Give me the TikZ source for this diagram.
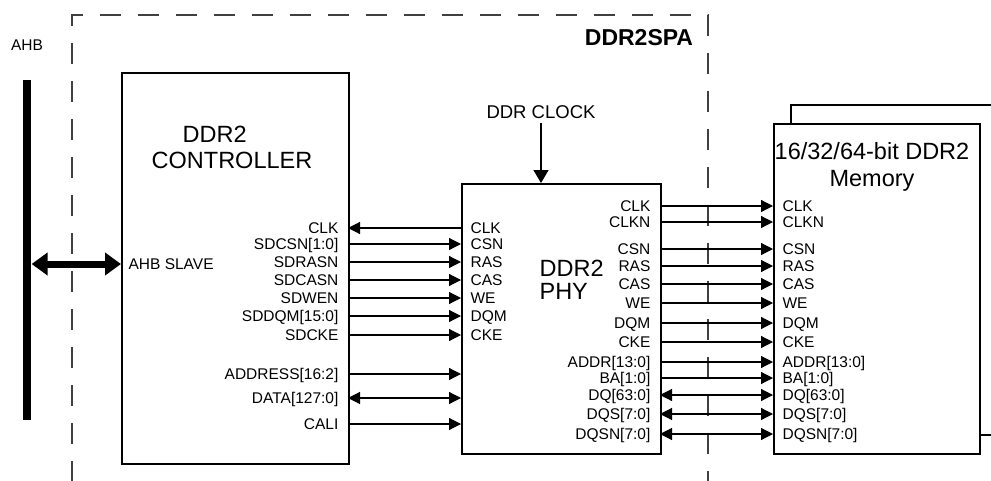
\documentclass[tikz,border=0pt]{standalone}
\usepackage{fontspec}
\setmainfont{Liberation Sans}
\usetikzlibrary{arrows.meta, positioning}

\begin{document}
\begin{tikzpicture}[x=1pt, y=-1pt, line width=1.2pt, >={Triangle[length=12pt, width=12pt]},
  box/.style={draw, line width=2.2pt, fill=white, rectangle, anchor=north west, inner sep=0pt},
  pinl/.style={anchor=west, inner xsep=9pt, inner ysep=0pt, text height=11pt, text depth=0pt, font=\fontsize{15.5}{17}\selectfont},
  pinr/.style={pinl, anchor=east},
  title/.style={inner sep=0pt, font=\fontsize{23.5}{26}\selectfont},
  frame/.style={draw=black!75, line width=1.3pt, dash pattern=on 21pt off 17pt, dash phase=19.5pt},
  bus/.style={line width=7pt, {Triangle[length=16pt, width=22pt]}-{Triangle[length=16pt, width=22pt]}}]

  \clip (0,0) rectangle (991,480);

  % Rahmen DDR2SPA
  \draw [frame] (72,500) |- (708,15) -- (708,500);
  \node [font=\fontsize{23}{25}\bfseries] (spa) at (639,38) {DDR2SPA};

  % AHB-Bus
  \node [fill, minimum width=8pt, minimum height=340pt, inner sep=0pt] (ahb) at (27,250) {};
  \node [pinl, anchor=center, inner xsep=0pt] (ahb-lbl) at (27,45) {AHB};

  % Bloecke
  \node [box, minimum width=227pt, minimum height=391pt] (ctrl) at (121,72) {};
  \node [box, minimum width=199pt, minimum height=270pt] (phy) at (461,183) {};
  \node [box, minimum width=230pt, minimum height=330pt] (memback) at (790,104) {};
  \node [box, minimum width=206pt, minimum height=330pt] (mem) at (773,123) {};

  \node [title, align=left] (ctrl-title) at (232,147) {\hspace*{31pt}DDR2\\CONTROLLER};
  \node [title, align=left, anchor=west, font=\fontsize{23.5}{23}\selectfont] (phy-title) at (539,280) {DDR2\\PHY};
  \node [title, align=center, font=\fontsize{23.5}{27}\selectfont] (mem-title) at (872,167) {16/32/64-bit DDR2\\Memory};

  % Takt
  \node [inner ysep=4pt, text height=13pt, text depth=0pt, font=\fontsize{18.5}{20}\selectfont] (ddrclk) at (541,112) {DDR CLOCK};
  \draw [-{Triangle[length=13pt, width=15pt]}] (ddrclk.south) -- (phy.north -| ddrclk.south);

  % AHB Slave
  \node [pinl, inner xsep=7pt] (slave) at (121,264) {AHB SLAVE};
  \draw [bus] (ahb.east |- slave) -- (slave.west);

  % Controller-Pins
  \node [pinr] (ctl-clk) at (348,228) {CLK};
  \node [pinr] (ctl-csn) at (348,244) {SDCSN[1:0]};
  \node [pinr] (ctl-ras) at (348,262) {SDRASN};
  \node [pinr] (ctl-cas) at (348,280) {SDCASN};
  \node [pinr] (ctl-we) at (348,298) {SDWEN};
  \node [pinr] (ctl-dqm) at (348,316) {SDDQM[15:0]};
  \node [pinr] (ctl-cke) at (348,335) {SDCKE};
  \node [pinr] (ctl-addr) at (348,374) {ADDRESS[16:2]};
  \node [pinr] (ctl-data) at (348,398) {DATA[127:0]};
  \node [pinr] (ctl-cali) at (348,424) {CALI};

  % PHY-Pins links
  \node [pinl] (phyl-clk) at (461,228) {CLK};
  \node [pinl] (phyl-csn) at (461,244) {CSN};
  \node [pinl] (phyl-ras) at (461,262) {RAS};
  \node [pinl] (phyl-cas) at (461,280) {CAS};
  \node [pinl] (phyl-we) at (461,298) {WE};
  \node [pinl] (phyl-dqm) at (461,316) {DQM};
  \node [pinl] (phyl-cke) at (461,335) {CKE};
  \coordinate (phyl-addr) at (phy.west |- ctl-addr);
  \coordinate (phyl-data) at (phy.west |- ctl-data);
  \coordinate (phyl-cali) at (phy.west |- ctl-cali);

  % PHY-Pins rechts
  \node [pinr] (phyr-clk) at (660,206) {CLK};
  \node [pinr] (phyr-clkn) at (660,222) {CLKN};
  \node [pinr] (phyr-csn) at (660,249) {CSN};
  \node [pinr] (phyr-ras) at (660,266) {RAS};
  \node [pinr] (phyr-cas) at (660,284) {CAS};
  \node [pinr] (phyr-we) at (660,303) {WE};
  \node [pinr] (phyr-dqm) at (660,323) {DQM};
  \node [pinr] (phyr-cke) at (660,342) {CKE};
  \node [pinr] (phyr-addr) at (660,362) {ADDR[13:0]};
  \node [pinr] (phyr-ba) at (660,378) {BA[1:0]};
  \node [pinr] (phyr-dq) at (660,395) {DQ[63:0]};
  \node [pinr] (phyr-dqs) at (660,414) {DQS[7:0]};
  \node [pinr] (phyr-dqsn) at (660,434) {DQSN[7:0]};

  % Speicher-Pins
  \node [pinl] (mem-clk) at (773,206) {CLK};
  \node [pinl] (mem-clkn) at (773,222) {CLKN};
  \node [pinl] (mem-csn) at (773,249) {CSN};
  \node [pinl] (mem-ras) at (773,266) {RAS};
  \node [pinl] (mem-cas) at (773,284) {CAS};
  \node [pinl] (mem-we) at (773,303) {WE};
  \node [pinl] (mem-dqm) at (773,323) {DQM};
  \node [pinl] (mem-cke) at (773,342) {CKE};
  \node [pinl] (mem-addr) at (773,362) {ADDR[13:0]};
  \node [pinl] (mem-ba) at (773,378) {BA[1:0]};
  \node [pinl] (mem-dq) at (773,395) {DQ[63:0]};
  \node [pinl] (mem-dqs) at (773,414) {DQS[7:0]};
  \node [pinl] (mem-dqsn) at (773,434) {DQSN[7:0]};

  % Controller <-> PHY
  \draw [<-] (ctl-clk.east) -- (phyl-clk.west);
  \draw [->] (ctl-csn.east) -- (phyl-csn.west);
  \draw [->] (ctl-ras.east) -- (phyl-ras.west);
  \draw [->] (ctl-cas.east) -- (phyl-cas.west);
  \draw [->] (ctl-we.east) -- (phyl-we.west);
  \draw [->] (ctl-dqm.east) -- (phyl-dqm.west);
  \draw [->] (ctl-cke.east) -- (phyl-cke.west);
  \draw [->] (ctl-addr.east) -- (phyl-addr);
  \draw [<->] (ctl-data.east) -- (phyl-data);
  \draw [->] (ctl-cali.east) -- (phyl-cali);

  % PHY <-> Speicher
  \draw [->] (phyr-clk.east) -- (mem-clk.west);
  \draw [->] (phyr-clkn.east) -- (mem-clkn.west);
  \draw [->] (phyr-csn.east) -- (mem-csn.west);
  \draw [->] (phyr-ras.east) -- (mem-ras.west);
  \draw [->] (phyr-cas.east) -- (mem-cas.west);
  \draw [->] (phyr-we.east) -- (mem-we.west);
  \draw [->] (phyr-dqm.east) -- (mem-dqm.west);
  \draw [->] (phyr-cke.east) -- (mem-cke.west);
  \draw [->] (phyr-addr.east) -- (mem-addr.west);
  \draw [->] (phyr-ba.east) -- (mem-ba.west);
  \draw [<->] (phyr-dq.east) -- (mem-dq.west);
  \draw [<->] (phyr-dqs.east) -- (mem-dqs.west);
  \draw [<->] (phyr-dqsn.east) -- (mem-dqsn.west);
\end{tikzpicture}
\end{document}
